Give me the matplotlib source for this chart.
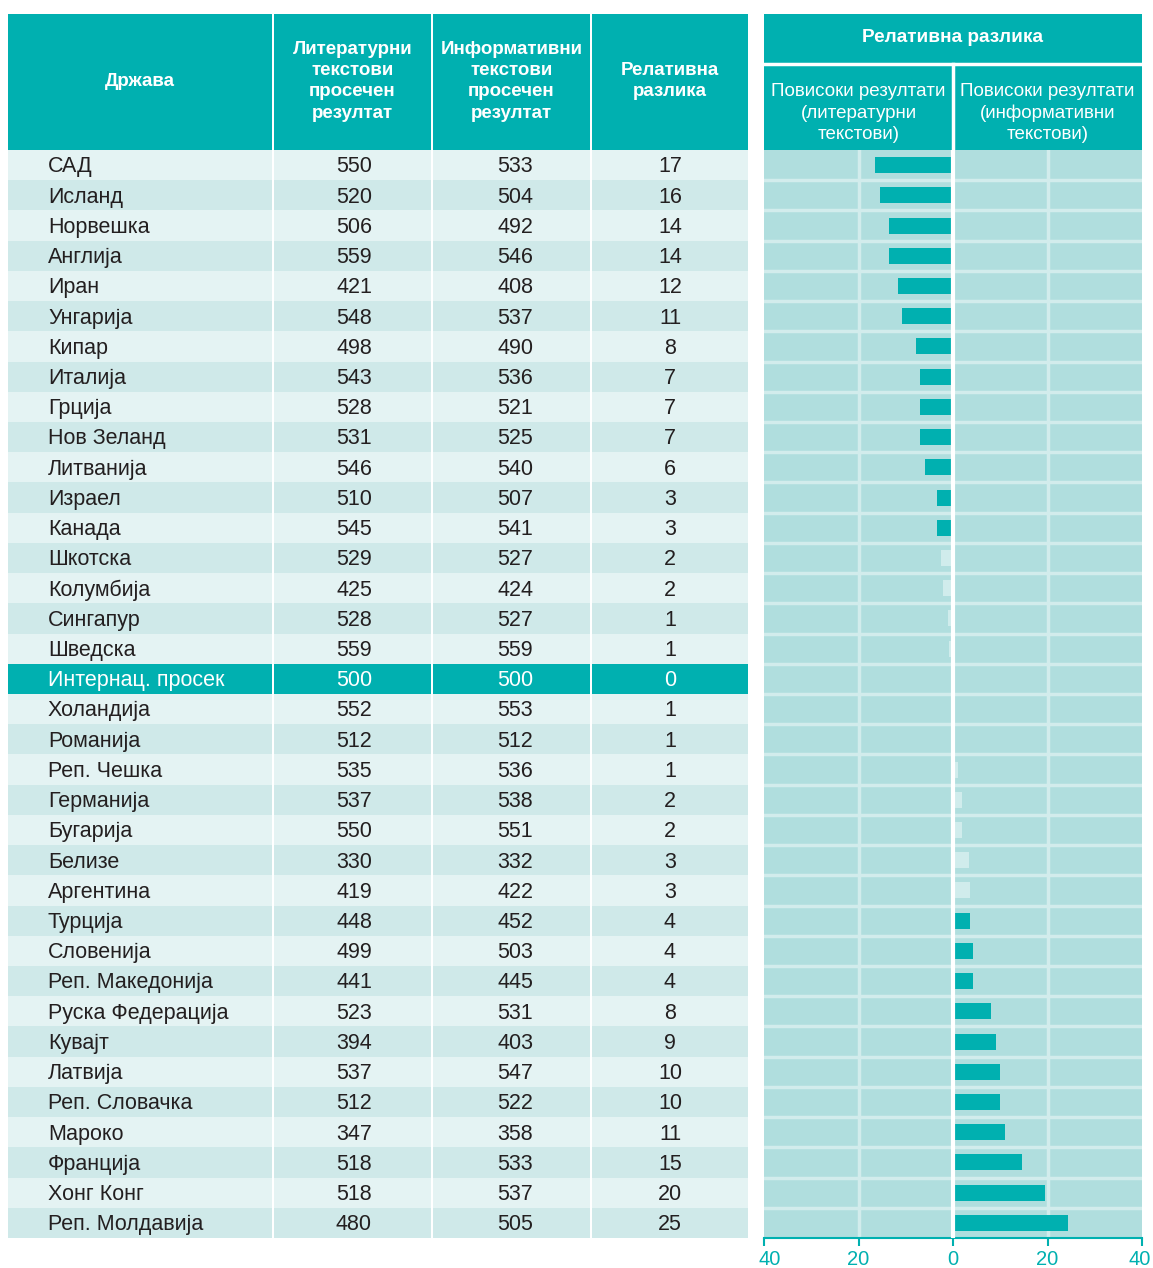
import matplotlib
matplotlib.use("Agg")
import matplotlib.pyplot as plt
from matplotlib.patches import Rectangle
from matplotlib.transforms import ScaledTranslation

plt.rcParams['font.family'] = ['Liberation Sans', 'DejaVu Sans']

# ---------------- data ----------------
countries = ["САД", "Исланд", "Норвешка", "Англија", "Иран", "Унгарија", "Кипар",
             "Италија", "Грција", "Нов Зеланд", "Литванија", "Израел", "Канада",
             "Шкотска", "Колумбија", "Сингапур", "Шведска", "Интернац. просек",
             "Холандија", "Романија", "Реп. Чешка", "Германија", "Бугарија", "Белизе",
             "Аргентина", "Турција", "Словенија", "Реп. Македонија", "Руска Федерација",
             "Кувајт", "Латвија", "Реп. Словачка", "Мароко", "Франција", "Хонг Конг",
             "Реп. Молдавија"]
literary = [550, 520, 506, 559, 421, 548, 498, 543, 528, 531, 546, 510, 545, 529, 425,
            528, 559, 500, 552, 512, 535, 537, 550, 330, 419, 448, 499, 441, 523, 394,
            537, 512, 347, 518, 518, 480]
informational = [533, 504, 492, 546, 408, 537, 490, 536, 521, 525, 540, 507, 541, 527,
                 424, 527, 559, 500, 553, 512, 536, 538, 551, 332, 422, 452, 503, 445,
                 531, 403, 547, 522, 358, 533, 537, 505]
rel_diff = [17, 16, 14, 14, 12, 11, 8, 7, 7, 7, 6, 3, 3, 2, 2, 1, 1, 0, 1, 1, 1, 2, 2,
            3, 3, 4, 4, 4, 8, 9, 10, 10, 11, 15, 20, 25]
# signed bar values (negative = literary higher, positive = informational higher)
bar_diff = [-16.5, -15.4, -13.5, -13.5, -11.6, -10.8, -7.8, -7.0, -7.0, -7.0, -5.9,
            -3.4, -3.4, -2.5, -2.1, -1.1, -0.8, 0.0, 0.3, 0.3, 1.0, 2.0, 2.0, 3.3, 3.7,
            3.7, 4.3, 4.3, 8.1, 9.0, 10.0, 10.0, 10.9, 14.7, 19.5, 24.4]
significant = [True] * 13 + [False] * 4 + [False] + [False] * 7 + [True] * 11
avg_label = "Интернац. просек"

col_headers = ["Држава", "Литературни\nтекстови\nпросечен\nрезултат",
               "Информативни\nтекстови\nпросечен\nрезултат", "Релативна\nразлика"]
chart_title = "Релативна разлика"
sub_left = "Повисоки резултати\n(литературни\nтекстови)"
sub_right = "Повисоки резултати\n(информативни\nтекстови)"
xticks = [-40, -20, 0, 20, 40]
xtick_labels = ["40", "20", "0", "20", "40"]

# ---------------- style ----------------
TEAL = "#00b0b0"
ROW_LIGHT = "#e4f3f3"
ROW_DARK = "#cfe9e9"
CHART_BG = "#b0dede"
GRID = "#d2ecec"
FAINT = "#d0ecec"
TXT = "#231f20"
FS = 15.5

W, H = 1153, 1268
fig = plt.figure(figsize=(W / 100, H / 100), dpi=100)


def rect(x0, y0, x1, y1):
    return [x0 / W, 1 - y1 / H, (x1 - x0) / W, (y1 - y0) / H]


cols = [(8, 272), (274, 431), (433, 590), (592, 748)]

# ---------- table header ----------
axh = fig.add_axes(rect(8, 14, 748, 150))
axh.set_xlim(8, 748)
axh.set_ylim(1, 0)
axh.axis("off")
for (x0, x1), lab in zip(cols, col_headers):
    axh.add_patch(Rectangle((x0, 0), x1 - x0, 1, color=TEAL, lw=0))
    axh.text((x0 + x1) / 2, 0.495, lab, ha="center", va="center", color="white",
             fontsize=13.5, fontweight="bold", linespacing=1.33)

# ---------- table body ----------
axt = fig.add_axes(rect(8, 150, 748, 1238))
axt.set_xlim(8, 748)
axt.set_ylim(len(countries), 0)
axt.axis("off")
for i, c in enumerate(countries):
    is_avg = c == avg_label
    bg = TEAL if is_avg else (ROW_LIGHT if i % 2 == 0 else ROW_DARK)
    tc = "white" if is_avg else TXT
    for x0, x1 in cols:
        axt.add_patch(Rectangle((x0, i), x1 - x0, 1, color=bg, lw=0))
    yc = i + 0.56
    axt.text(48, yc, c, ha="left", va="center", color=tc, fontsize=FS)
    axt.text(354, yc, str(literary[i]), ha="center", va="center", color=tc, fontsize=FS)
    axt.text(515, yc, str(informational[i]), ha="center", va="center", color=tc, fontsize=FS)
    axt.text(670, yc, str(rel_diff[i]), ha="center", va="center", color=tc, fontsize=FS)

# ---------- chart header ----------
axc = fig.add_axes(rect(764, 14, 1142, 150))
axc.set_xlim(-40, 40)
axc.set_ylim(150, 14)
axc.axis("off")
axc.add_patch(Rectangle((-40, 14), 80, 136, color=TEAL, lw=0))
axc.axhline(64, color="white", lw=2.5)
axc.plot([0, 0], [64, 150], color="white", lw=2.5)
axc.text(0, 38, chart_title, ha="center", va="center", color="white",
         fontsize=13.7, fontweight="bold")
axc.text(-20, 113, sub_left, ha="center", va="center", color="white",
         fontsize=13.5, linespacing=1.33)
axc.text(20, 113, sub_right, ha="center", va="center", color="white",
         fontsize=13.5, linespacing=1.33)

# ---------- bar chart ----------
axb = fig.add_axes(rect(764, 150, 1142, 1238))
axb.set_facecolor(CHART_BG)
axb.set_xlim(-40, 40)
n = len(countries)
axb.set_ylim(n - 0.5, -0.5)
for k in range(n - 1):
    axb.axhline(k + 0.5, color=GRID, lw=2.5, zorder=1)
for xv in (-20, 20):
    axb.axvline(xv, color=GRID, lw=2.5, zorder=1)
colors = [TEAL if s else FAINT for s in significant]
axb.barh(range(n), bar_diff, height=0.53, color=colors, lw=0, zorder=2)
axb.axvline(0, color="white", lw=3, zorder=3)
for s in ("top", "left", "right"):
    axb.spines[s].set_visible(False)
axb.spines["bottom"].set_color(TEAL)
axb.spines["bottom"].set_linewidth(1.5)
axb.set_yticks([])
axb.set_xticks(xticks)
axb.set_xticklabels(xtick_labels)
axb.tick_params(axis="x", colors=TEAL, length=6, width=1.5, labelsize=14.5, pad=2.5)
lbls = axb.get_xticklabels()
lbls[0].set_transform(lbls[0].get_transform() + ScaledTranslation(6 / 100, 0, fig.dpi_scale_trans))
lbls[-1].set_transform(lbls[-1].get_transform() + ScaledTranslation(-2 / 100, 0, fig.dpi_scale_trans))

fig.savefig("out.png", dpi=100)
